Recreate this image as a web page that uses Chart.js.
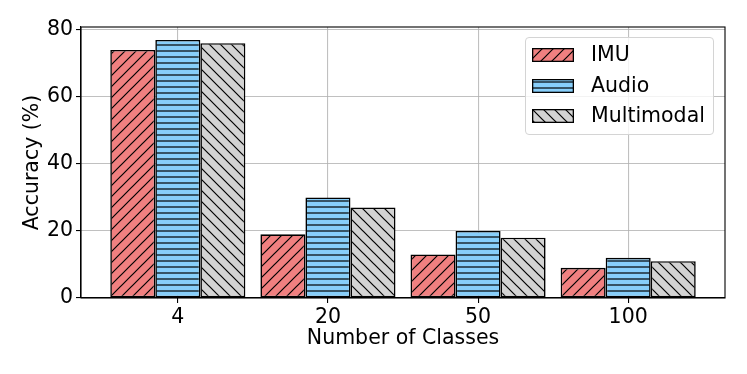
<!DOCTYPE html>
<html>
<head>
<meta charset="utf-8">
<script src="https://cdn.jsdelivr.net/npm/chart.js@4.4.0/dist/chart.umd.min.js"></script>
<style>
  html, body { margin: 0; padding: 0; background: #fff; }
  #wrap { position: relative; width: 747px; height: 374px; }
  #legend {
    position: absolute; left: 525px; top: 37px; width: 187px; height: 96px;
    border: 1px solid #d4d4d4; border-radius: 4px; background: rgba(255,255,255,0.8);
    font-family: "DejaVu Sans", sans-serif; font-size: 20.5px; color: #000;
  }
  .row { position: absolute; left: 0; height: 30px; width: 187px; }
  .row canvas { position: absolute; left: 6px; top: 8px; }
  .row span { position: absolute; left: 65px; top: 2px; line-height: 24px; white-space: nowrap; }
</style>
</head>
<body>
<div id="wrap">
  <canvas id="c" width="747" height="374"></canvas>
  <div id="legend"></div>
</div>
<script>
// ---- data ----
const categories = ['4', '20', '50', '100'];
const seriesNames = ['IMU', 'Audio', 'Multimodal'];
const imu = [74, 19, 13, 9];
const audio = [77, 30, 20, 12];
const multimodal = [76, 27, 18, 11];
const yTicks = [0, 20, 40, 60, 80];

// ---- styles ----
const fills = ['#F08080', '#87CEFA', '#D3D3D3'];
const hatches = ['/', '-', '\\'];

function makePattern(bg, kind) {
  const s = kind === '-' ? 6 : 11;
  const cv = document.createElement('canvas');
  cv.width = s; cv.height = s;
  const g = cv.getContext('2d');
  g.fillStyle = bg; g.fillRect(0, 0, s, s);
  g.strokeStyle = '#000'; g.lineWidth = 1.2;
  g.beginPath();
  if (kind === '/') {
    g.moveTo(-1, s + 1); g.lineTo(s + 1, -1);
    g.moveTo(-1, 1); g.lineTo(1, -1);
    g.moveTo(s - 1, s + 1); g.lineTo(s + 1, s - 1);
  } else if (kind === '\\') {
    g.moveTo(-1, -1); g.lineTo(s + 1, s + 1);
    g.moveTo(s - 1, -1); g.lineTo(s + 1, 1);
    g.moveTo(-1, s - 1); g.lineTo(1, s + 1);
  } else {
    g.moveTo(0, 3); g.lineTo(s, 3);
  }
  g.stroke();
  return g.createPattern(cv, 'repeat');
}

const ctx = document.getElementById('c').getContext('2d');
const patterns = fills.map((f, i) => makePattern(f, hatches[i]));
const values = [imu, audio, multimodal];

const datasets = values.map((arr, i) => ({
  label: seriesNames[i],
  data: arr.map((v, j) => ({ x: j, y: v })),
  backgroundColor: patterns[i],
  borderColor: '#000',
  borderWidth: 1.6,
  borderSkipped: false,
  categoryPercentage: 0.9,
  barPercentage: 1.0
}));

const font = { family: 'DejaVu Sans', size: 20.5 };
const gridColor = 'rgba(176,176,176,0.8)';

const frame = {
  id: 'frame',
  afterDraw(chart) {
    const a = chart.chartArea, g = chart.ctx;
    g.save();
    g.strokeStyle = '#000'; g.lineWidth = 1.1;
    g.strokeRect(a.left, a.top, a.right - a.left, a.bottom - a.top);
    g.restore();
  }
};

Chart.defaults.color = '#000';
new Chart(ctx, {
  type: 'bar',
  data: { datasets },
  plugins: [frame],
  options: {
    responsive: false,
    animation: false,
    devicePixelRatio: 1,
    layout: { padding: { top: 27, right: 22, left: 0, bottom: 0 } },
    plugins: { legend: { display: false }, tooltip: { enabled: false } },
    scales: {
      x: {
        type: 'linear', min: -0.645, max: 3.645, offset: false, z: 1,
        afterBuildTicks: s => { s.ticks = categories.map((c, i) => ({ value: i })); },
        afterFit: s => { s.height = 76; },
        ticks: { font, padding: 2, callback: v => categories[v], maxRotation: 0, autoSkip: false },
        grid: { color: gridColor, lineWidth: 1.1, tickLength: 5, tickColor: '#000', offset: false },
        border: { color: '#000', width: 1.1 },
        title: { display: true, text: 'Number of Classes', font, padding: { bottom: 22.7, top: 0 } }
      },
      y: {
        min: 0, max: 80.85, z: 1,
        afterBuildTicks: s => { s.ticks = yTicks.map(v => ({ value: v })); },
        afterFit: s => { s.width = 81; },
        ticks: { font, padding: 3 },
        grid: { color: gridColor, lineWidth: 1.1, tickLength: 5, tickColor: '#000' },
        border: { color: '#000', width: 1.1 },
        title: { display: true, text: 'Accuracy (%)', font, padding: { top: 20.7, bottom: 0 } }
      }
    }
  }
});

// ---- legend (HTML) ----
const leg = document.getElementById('legend');
seriesNames.forEach((name, i) => {
  const row = document.createElement('div');
  row.className = 'row';
  row.style.top = (2 + i * 30.5) + 'px';
  const sw = document.createElement('canvas');
  sw.width = 42; sw.height = 14;
  const g = sw.getContext('2d');
  g.fillStyle = makePattern(fills[i], hatches[i]);
  g.fillRect(0, 0, 42, 14);
  g.strokeStyle = '#000'; g.lineWidth = 1.3;
  g.strokeRect(0.65, 0.65, 40.7, 12.7);
  const sp = document.createElement('span');
  sp.textContent = name;
  row.appendChild(sw); row.appendChild(sp);
  leg.appendChild(row);
});
</script>
</body>
</html>
